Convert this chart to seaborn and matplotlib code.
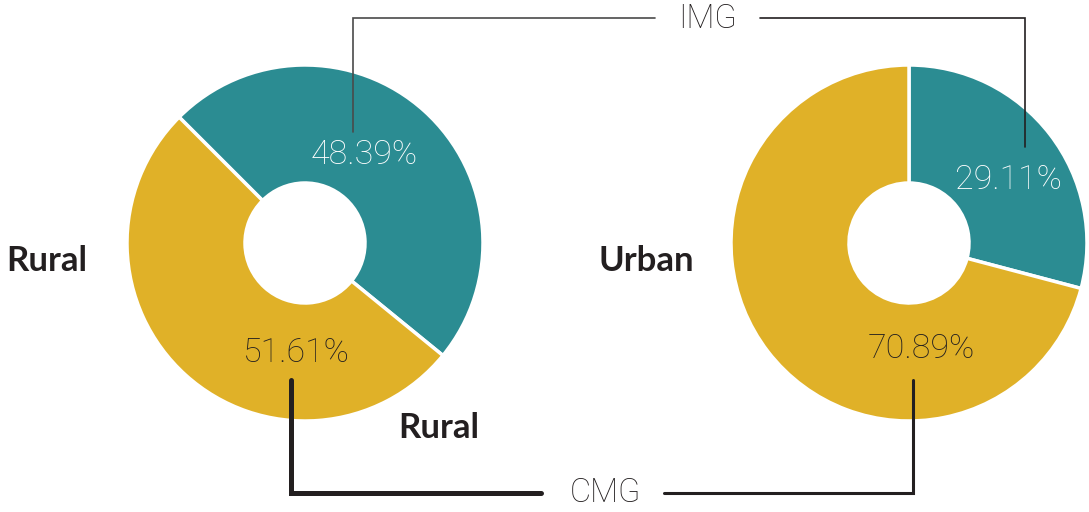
import matplotlib
matplotlib.use("Agg")
import matplotlib.pyplot as plt
import seaborn as sns

# data
groups = ["Rural", "Urban"]
segments = ["IMG", "CMG"]
img_share = [48.39, 29.11]
cmg_share = [51.61, 70.89]

teal = "#2b8c92"
gold = "#e0b128"
ink = "#231f20"

sns.set_theme(style="white")
plt.rcParams["font.family"] = ["Roboto", "DejaVu Sans"]

W, H = 1089, 512
fig = plt.figure(figsize=(W / 100, H / 100), dpi=100)
ax = fig.add_axes([0, 0, 1, 1])


def Y(y):
    # pixel row (top down) -> data y
    return H - y


# donut layout: centre, start angle, percent label spots (pixels)
centres = [(305, 243), (909, 243)]
starts = [135, 90]
label_spots = [[(364, 155), (296, 353)], [(1008, 180), (921, 349)]]

for i, g in enumerate(groups):
    vals = [img_share[i], cmg_share[i]]
    cx, cy = centres[i]
    ax.pie(vals, colors=[teal, gold], startangle=starts[i],
           counterclock=False, radius=178, center=(cx, Y(cy)),
           wedgeprops=dict(width=118, edgecolor="white", linewidth=2.5),
           frame=True)
    for j, v in enumerate(vals):
        tx, ty = label_spots[i][j]
        ax.text(tx, Y(ty), f"{v:.2f}%", ha="center", va="center",
                fontsize=24.5, fontweight="light",
                color="white" if j == 0 else ink)

ax.set_xlim(0, W)
ax.set_ylim(0, H)
ax.set_aspect("equal")
ax.axis("off")

# group names
bold = dict(va="center", fontsize=25, fontweight="bold", color=ink,
            family=["Lato", "DejaVu Sans"])
ax.text(47, Y(261), "Rural", ha="center", **bold)
ax.text(646, Y(261), "Urban", ha="center", **bold)
ax.text(439, Y(428), "Rural", ha="center", **bold)

# IMG connector
ax.plot([353, 353, 655], [Y(132), Y(18), Y(18)], color="#4a4a4a", lw=1.2,
        solid_joinstyle="miter")
ax.plot([760, 1025, 1025], [Y(18), Y(18), Y(147)], color=ink, lw=1.2,
        solid_joinstyle="miter")
ax.text(707, Y(19), segments[0], ha="center", va="center", fontsize=23.5,
        fontweight="light", color=ink)

# CMG connector
ax.plot([291, 291, 541], [Y(380), Y(493), Y(493)], color=ink, lw=3.6,
        solid_joinstyle="miter")
ax.plot([664, 913, 913], [Y(493), Y(493), Y(380)], color=ink, lw=2.2,
        solid_joinstyle="miter")
ax.text(605, Y(493), segments[1], ha="center", va="center", fontsize=23.5,
        fontweight="light", color=ink)

fig.savefig("out.png", dpi=100, facecolor="white")
